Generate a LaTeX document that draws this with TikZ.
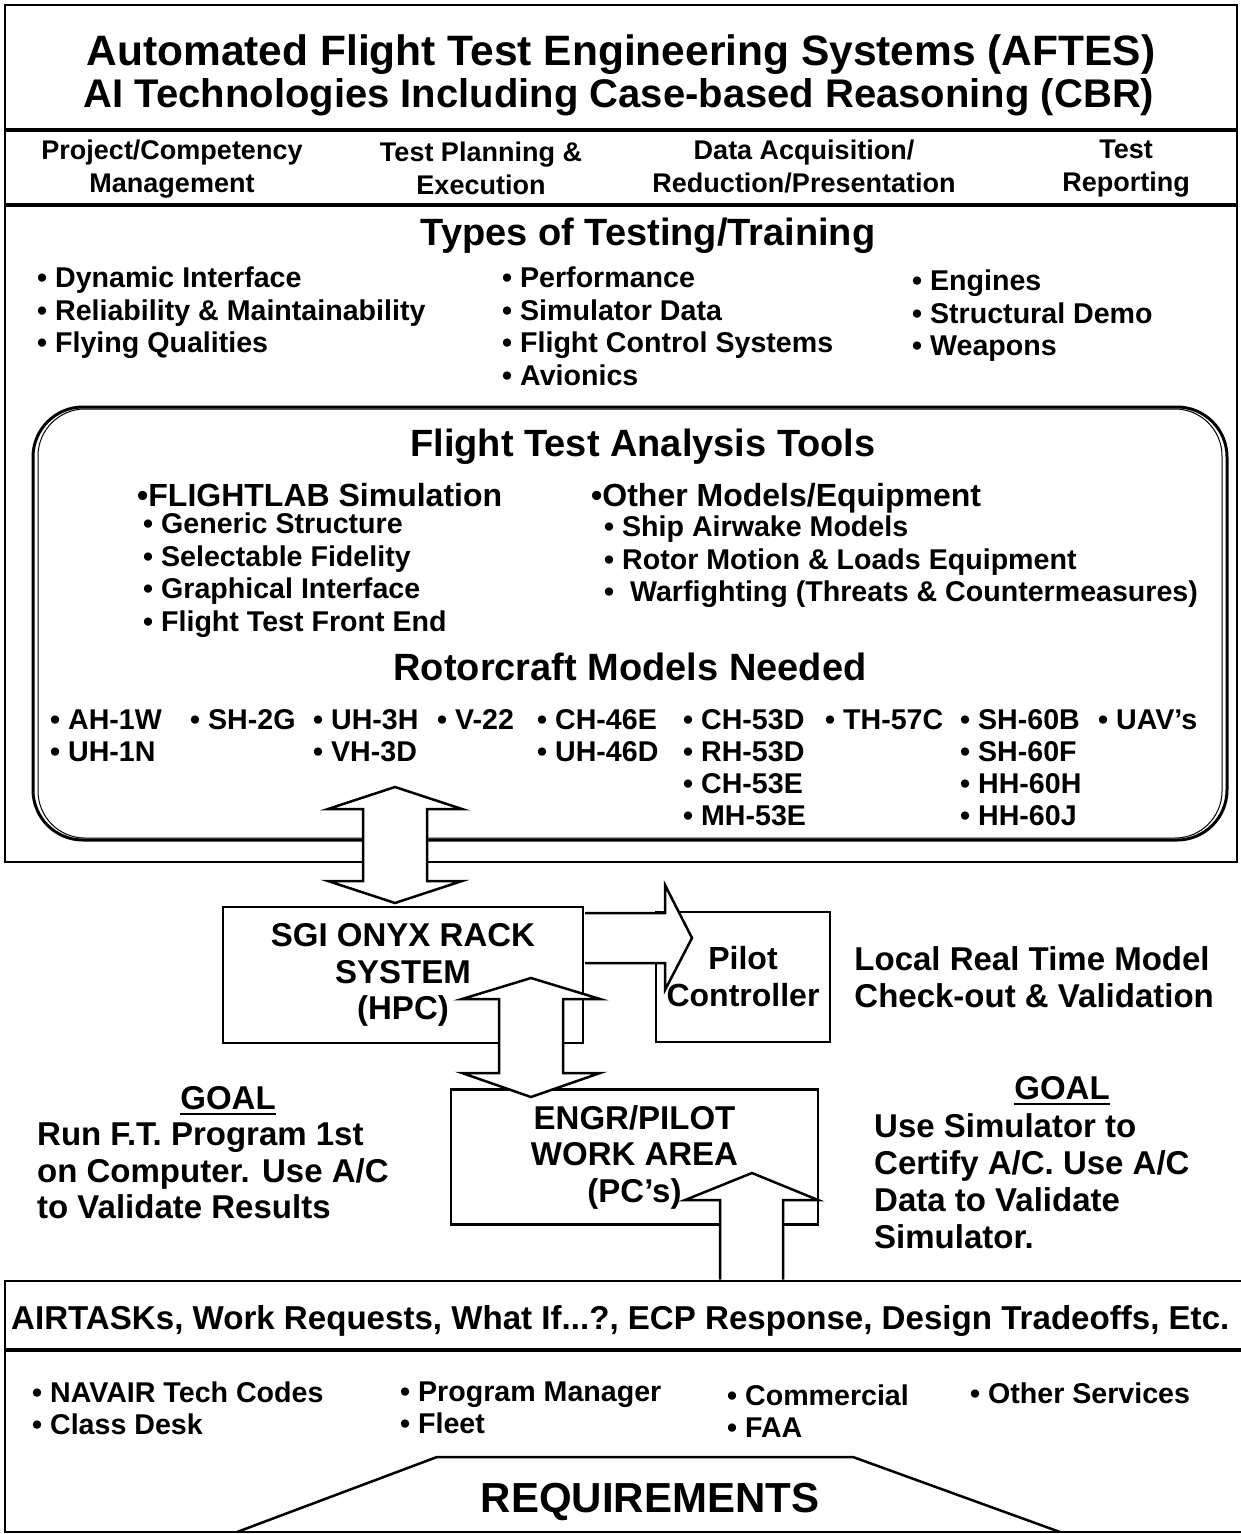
\documentclass[tikz,border=0pt]{standalone}
\usepackage{fontspec}
\setmainfont{Liberation Sans}
\usetikzlibrary{positioning}

\begin{document}
\begin{tikzpicture}[x=1pt, y=-1pt,
	box/.style = {draw, line width=2.5pt},
	blk/.style = {draw, fill=white, line width=2.5pt},
	title/.style = {inner sep=0pt, font=\fontsize{42.5}{46}\selectfont\bfseries},
	head/.style = {inner sep=0pt, font=\fontsize{38}{40}\selectfont\bfseries},
	item/.style = {inner sep=0pt, align=left, font=\fontsize{28.6}{32.7}\selectfont\bfseries},
	main/.style = {inner sep=0pt, align=center, font=\fontsize{33}{36.5}\selectfont\bfseries}]

	\useasboundingbox (0,0) rectangle (1241,1534);

	%% Frames
	\draw[box] (5,5) rectangle (1237,862);
	\draw[line width=3.5pt] (5,130) -- (1237,130);
	\draw[line width=3.5pt] (5,205) -- (1237,205);
	\draw[line width=3pt, rounded corners=50pt] (33,407) rectangle (1227,840);
	\draw[line width=1pt, rounded corners=47pt] (38,409) rectangle (1222,838);
	\draw[box] (5,1281) rectangle (1260,1532);
	\draw[line width=3.5pt] (5,1350) -- (1260,1350);
	\draw[box] (237,1532) -- (437,1457) -- (853,1457) -- (1060,1532);

	%% Nodes
	\node[title][anchor=base] (t1) at (621,65) {Automated Flight Test Engineering Systems (AFTES)};
	\node[title, font=\fontsize{40}{44}\selectfont\bfseries][anchor=base] (t2) at (619,107) {AI Technologies Including Case-based Reasoning (CBR)};

	\node[main, font=\fontsize{27}{33}\selectfont\bfseries][anchor=north] (h1) at (172,140) {Project/Competency\\Management};
	\node[main, font=\fontsize{27}{33}\selectfont\bfseries][anchor=north] (h2) at (481,141.5) {Test Planning \&\\Execution};
	\node[main, font=\fontsize{27}{33}\selectfont\bfseries][anchor=north] (h3) at (804,140) {Data Acquisition/\\Reduction/Presentation};
	\node[main, font=\fontsize{27}{33}\selectfont\bfseries][anchor=north] (h4) at (1126,140) {Test\\Reporting};

	\node[head][anchor=base] (types) at (648,245.5) {Types of Testing/Training};
	\node[item][anchor=north west] (ty1) at (37,266.6) {• Dynamic Interface\\• Reliability \& Maintainability\\• Flying Qualities};
	\node[item][anchor=north west] (ty2) at (502,266.6) {• Performance\\• Simulator Data\\• Flight Control Systems\\• Avionics};
	\node[item][anchor=north west] (ty3) at (912,269.6) {• Engines\\• Structural Demo\\• Weapons};

	\node[head][anchor=base] (tools) at (643,456.5) {Flight Test Analysis Tools};
	\node[item, font=\fontsize{32}{36}\selectfont\bfseries][anchor=base west] (fl) at (137,506.5) {•FLIGHTLAB Simulation};
	\node[item][anchor=north west] (fl1) at (143,512.6) {• Generic Structure\\• Selectable Fidelity\\• Graphical Interface\\• Flight Test Front End};
	\node[item, font=\fontsize{32}{36}\selectfont\bfseries][anchor=base west] (om) at (591,506.5) {•Other Models/Equipment};
	\node[item][anchor=north west] (om1) at (604,515.6) {• Ship Airwake Models\\• Rotor Motion \& Loads Equipment\\•~ Warfighting (Threats \& Countermeasures)};

	\node[head][anchor=base] (rotor) at (630,680.5) {Rotorcraft Models Needed};
	\node[item, font=\fontsize{28.6}{32}\selectfont\bfseries][anchor=north west] (m1) at (50,709.6) {• AH-1W\\• UH-1N};
	\node[item][anchor=north west] (m2) at (190,709.6) {• SH-2G};
	\node[item, font=\fontsize{28.6}{32}\selectfont\bfseries][anchor=north west] (m3) at (313,709.6) {• UH-3H\\• VH-3D};
	\node[item][anchor=north west] (m4) at (437,709.6) {• V-22};
	\node[item, font=\fontsize{28.6}{32}\selectfont\bfseries][anchor=north west] (m5) at (537,709.6) {• CH-46E\\• UH-46D};
	\node[item, font=\fontsize{28.6}{32}\selectfont\bfseries][anchor=north west] (m6) at (683,709.6) {• CH-53D\\• RH-53D\\• CH-53E\\• MH-53E};
	\node[item][anchor=north west] (m7) at (825,709.6) {• TH-57C};
	\node[item, font=\fontsize{28.6}{32}\selectfont\bfseries][anchor=north west] (m8) at (960,709.6) {• SH-60B\\• SH-60F\\• HH-60H\\• HH-60J};
	\node[item][anchor=north west] (m9) at (1098,709.6) {• UAV’s};

	\node[box, main, minimum width=360pt, minimum height=136pt] (sgi) at (403,975) {SGI ONYX RACK\\SYSTEM\\(HPC)};
	\node[box, main, font=\fontsize{32}{37}\selectfont\bfseries, minimum width=174pt, minimum height=130pt] (pilot) at (743,977) {Pilot\\Controller};
	\node[main, align=left, font=\fontsize{33}{37}\selectfont\bfseries][below right=36pt and 23pt of pilot.north east] (local) {Local Real Time Model\\Check-out \& Validation};
	\node[box, main, minimum width=367pt, minimum height=135pt] (engr) at (634.5,1157) {ENGR/PILOT\\WORK AREA\\(PC’s)};

	\node[main][anchor=base] (goal1) at (228,1109) {GOAL};
	\node[main, align=left][anchor=north west] (run) at (37,1123) {Run F.T. Program 1st\\on Computer. Use A/C\\to Validate Results};
	\node[main][anchor=base] (goal2) at (1062,1099) {GOAL};
	\node[main, align=left, font=\fontsize{33}{37}\selectfont\bfseries][anchor=north west] (use) at (874,1113) {Use Simulator to\\Certify A/C. Use A/C\\Data to Validate\\Simulator.};
	\draw[line width=2.5pt] ([yshift=-5pt]goal1.base west) -- ([yshift=-5pt]goal1.base east);
	\draw[line width=2.5pt] ([yshift=-5pt]goal2.base west) -- ([yshift=-5pt]goal2.base east);

	\node[main, font=\fontsize{33.1}{36.5}\selectfont\bfseries][anchor=base west] (air) at (11,1329) {AIRTASKs, Work Requests, What If...?, ECP Response, Design Tradeoffs, Etc.};
	\node[item, font=\fontsize{28.6}{32}\selectfont\bfseries][anchor=north west] (r1) at (32,1381.6) {• NAVAIR Tech Codes\\• Class Desk};
	\node[item, font=\fontsize{28.6}{32}\selectfont\bfseries][anchor=north west] (r2) at (400,1381.6) {• Program Manager\\• Fleet};
	\node[item, font=\fontsize{28.6}{32}\selectfont\bfseries][anchor=north west] (r3) at (727,1384.6) {• Commercial\\• FAA};
	\node[item, font=\fontsize{28.6}{32}\selectfont\bfseries][anchor=north west] (r4) at (970,1382.6) {• Other Services};
	\node[inner sep=0pt, font=\fontsize{42}{44}\selectfont\bfseries][anchor=base] (req) at (650,1512) {REQUIREMENTS};

	%% Arrows
	\filldraw[blk] (395,787) -- (462,809) -- (427,809) -- (427,881) -- (462,881) -- (395,903) -- (328,881) -- (363,881) -- (363,809) -- (328,809) -- cycle;
	\filldraw[blk] (585,913) -- (665,913) -- (665,885) -- (692,938) -- (665,990) -- (665,963) -- (585,963);
	\filldraw[blk] (531,978) -- (600,999) -- (563,999) -- (563,1073) -- (600,1073) -- (531,1097) -- (462,1073) -- (499,1073) -- (499,999) -- (462,999) -- cycle;
	\filldraw[blk] (720,1279.5) -- (720,1200) -- (685,1200) -- (752,1173) -- (818,1200) -- (783,1200) -- (783,1279.5);

\end{tikzpicture}
\end{document}
